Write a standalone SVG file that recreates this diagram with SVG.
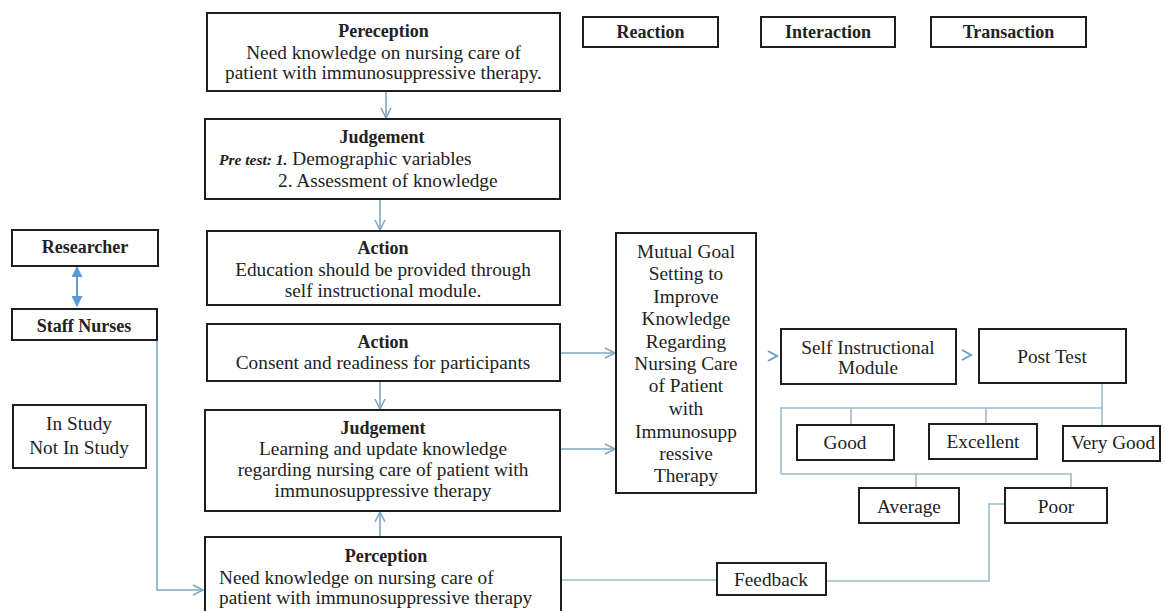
<svg xmlns="http://www.w3.org/2000/svg" width="1166" height="611" viewBox="0 0 1166 611">
<defs>
<style>
.box{fill:#fff;stroke:#1e1e1e;stroke-width:2}
.t{font-family:"Liberation Serif","Times New Roman",serif;font-size:19.3px;fill:#222;text-anchor:middle}
.b{font-family:"Liberation Serif","Times New Roman",serif;font-size:18px;font-weight:bold;fill:#222;text-anchor:middle}
.l{text-anchor:start}
.c{fill:none;stroke:#7fa9c6;stroke-width:1.6}
.tree{fill:none;stroke:#9dbccb;stroke-width:1.6}
</style>
<marker id="ah" viewBox="0 0 12 12" refX="11" refY="6" markerWidth="12" markerHeight="12" markerUnits="userSpaceOnUse" orient="auto">
<path d="M1,1 L11,6 L1,11" fill="none" stroke="#7fa9c6" stroke-width="1.6"/>
</marker>
<marker id="fh" viewBox="0 0 10 10" refX="9" refY="5" markerWidth="11" markerHeight="11" markerUnits="userSpaceOnUse" orient="auto-start-reverse">
<path d="M0,0 L10,5 L0,10 Z" fill="#5b9bd5"/>
</marker>
</defs>

<g id="connectors">
<line class="c" x1="386" y1="91" x2="386" y2="118" marker-end="url(#ah)"/>
<line class="c" x1="380" y1="199" x2="380" y2="230" marker-end="url(#ah)"/>
<line class="c" x1="380" y1="381" x2="380" y2="409" marker-end="url(#ah)"/>
<line class="c" x1="380" y1="537" x2="380" y2="512" marker-end="url(#ah)"/>
<line x1="77" y1="267" x2="77" y2="306" stroke="#5b9bd5" stroke-width="2" marker-start="url(#fh)" marker-end="url(#fh)"/>
<polyline class="c" points="157,340 157,590 203,590" marker-end="url(#ah)"/>
<line class="c" x1="560" y1="353" x2="615" y2="353" marker-end="url(#ah)"/>
<line class="c" x1="560" y1="449" x2="615" y2="449" marker-end="url(#ah)"/>
<polyline points="768,351 777,356 768,361" fill="none" stroke="#6a9fc4" stroke-width="2"/>
<polyline points="962,350 971,355 962,360" fill="none" stroke="#6a9fc4" stroke-width="2"/>
<polyline class="tree" points="1102,383 1102,426"/>
<polyline class="tree" points="781,474 781,408 1102,408"/>
<line class="tree" x1="851" y1="408" x2="851" y2="425"/>
<line class="tree" x1="986" y1="408" x2="986" y2="424"/>
<polyline class="tree" points="781,474 1071,474 1071,488"/>
<line class="tree" x1="916" y1="474" x2="916" y2="488"/>
<polyline class="tree" points="826,581 989,581 989,504 1005,504"/>
<line class="tree" x1="560" y1="580" x2="717" y2="580"/>
</g>

<g id="pereception">
<rect class="box" x="207" y="13" width="353" height="78"/>
<text class="b" x="383.5" y="37">Pereception</text>
<text class="t" x="383.5" y="58.5">Need knowledge on nursing care of</text>
<text class="t" x="383.5" y="78.5">patient with immunosuppressive therapy.</text>
</g>

<g id="judgement1">
<rect class="box" x="205" y="119" width="355" height="80"/>
<text class="b" x="382" y="143">Judgement</text>
<text class="t l" x="219" y="164.5"><tspan font-weight="bold" font-style="italic" font-size="15.5">Pre test: 1.</tspan> Demographic variables</text>
<text class="t l" x="278" y="186.5">2. Assessment of knowledge</text>
</g>

<g id="action1">
<rect class="box" x="207" y="231" width="353" height="74"/>
<text class="b" x="383" y="254">Action</text>
<text class="t" x="383" y="275.5">Education should be provided through</text>
<text class="t" x="383" y="296.5">self instructional module.</text>
</g>

<g id="action2">
<rect class="box" x="207" y="324" width="353" height="57"/>
<text class="b" x="383" y="348">Action</text>
<text class="t" x="383" y="368.5">Consent and readiness for participants</text>
</g>

<g id="judgement2">
<rect class="box" x="205" y="410" width="355" height="101"/>
<text class="b" x="383" y="434">Judgement</text>
<text class="t" x="383" y="454.5">Learning and update knowledge</text>
<text class="t" x="383" y="475.5">regarding nursing care of patient with</text>
<text class="t" x="383" y="496.5">immunosuppressive therapy</text>
</g>

<g id="perception">
<rect class="box" x="205" y="537" width="356" height="90"/>
<text class="b" x="386" y="562">Perception</text>
<text class="t l" x="219" y="583.5">Need knowledge on nursing care of</text>
<text class="t l" x="219" y="603.5">patient with immunosuppressive therapy</text>
</g>

<g id="reaction">
<rect class="box" x="583" y="17" width="135" height="30"/>
<text class="b" x="650.5" y="38">Reaction</text>
</g>
<g id="interaction">
<rect class="box" x="761" y="17" width="134" height="30"/>
<text class="b" x="828" y="38">Interaction</text>
</g>
<g id="transaction">
<rect class="box" x="931" y="17" width="155" height="30"/>
<text class="b" x="1008.5" y="38">Transaction</text>
</g>

<g id="researcher">
<rect class="box" x="12" y="230" width="146" height="36"/>
<text class="b" x="85" y="253" font-size="17">Researcher</text>
</g>
<g id="staff-nurses">
<rect class="box" x="12" y="309" width="145" height="31"/>
<text class="b" x="84" y="332" font-size="16.5">Staff Nurses</text>
</g>
<g id="in-study">
<rect class="box" x="13" y="405" width="133" height="63"/>
<text class="t" x="79" y="429.5">In Study</text>
<text class="t" x="79" y="453.5">Not In Study</text>
</g>

<g id="mutual-goal">
<rect class="box" x="616" y="233" width="140" height="260"/>
<text class="t" x="686" y="257.5">Mutual Goal</text>
<text class="t" x="686" y="279.5">Setting to</text>
<text class="t" x="686" y="302.5">Improve</text>
<text class="t" x="686" y="324.5">Knowledge</text>
<text class="t" x="686" y="347.5">Regarding</text>
<text class="t" x="686" y="369.5">Nursing Care</text>
<text class="t" x="686" y="391.5">of Patient</text>
<text class="t" x="686" y="414.5">with</text>
<text class="t" x="686" y="437.5">Immunosupp</text>
<text class="t" x="686" y="459.5">ressive</text>
<text class="t" x="686" y="481.5">Therapy</text>
</g>

<g id="self-instructional">
<rect class="box" x="781" y="329" width="175" height="55"/>
<text class="t" x="868" y="353.5">Self Instructional</text>
<text class="t" x="868" y="373.5">Module</text>
</g>
<g id="post-test">
<rect class="box" x="979" y="329" width="147" height="54"/>
<text class="t" x="1052" y="363" font-size="20.5">Post Test</text>
</g>
<g id="good">
<rect class="box" x="797" y="425" width="97" height="35"/>
<text class="t" x="845" y="449">Good</text>
</g>
<g id="excellent">
<rect class="box" x="929" y="424" width="108" height="35"/>
<text class="t" x="983" y="448">Excellent</text>
</g>
<g id="very-good">
<rect class="box" x="1063" y="426" width="97" height="35"/>
<text class="t" x="1113" y="449" font-size="17">Very Good</text>
</g>
<g id="average">
<rect class="box" x="859" y="488" width="100" height="35"/>
<text class="t" x="909" y="512.5">Average</text>
</g>
<g id="poor">
<rect class="box" x="1005" y="488" width="102" height="35"/>
<text class="t" x="1056" y="512.5">Poor</text>
</g>
<g id="feedback">
<rect class="box" x="717" y="563" width="109" height="32"/>
<text class="t" x="771" y="586">Feedback</text>
</g>
</svg>
